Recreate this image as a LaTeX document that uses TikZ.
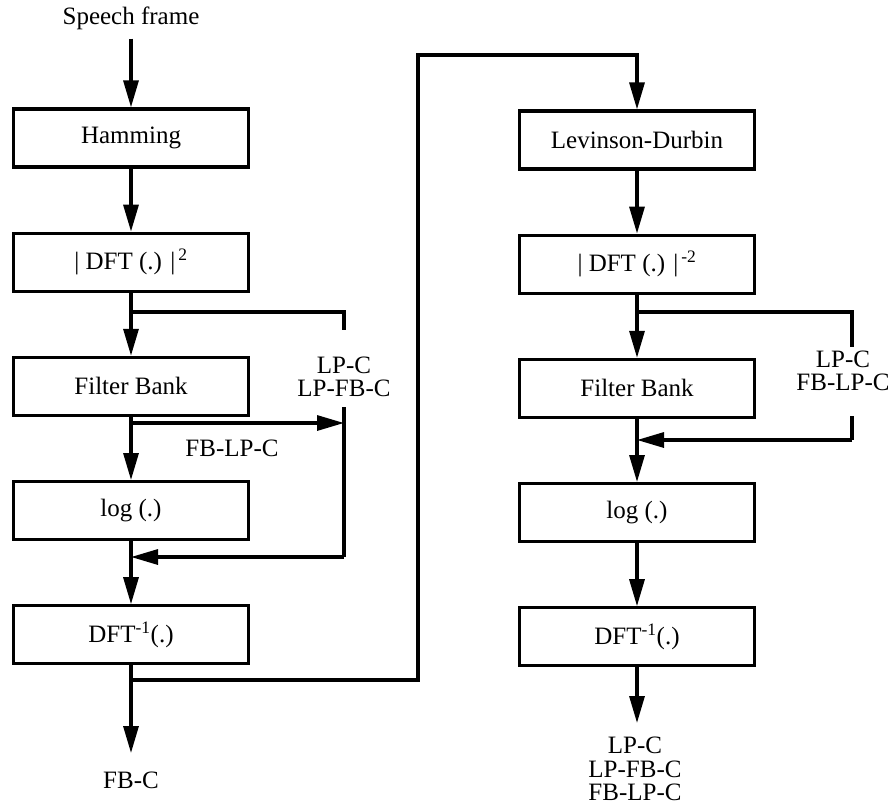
\documentclass[tikz,border=0pt]{standalone}
\usepackage{fontspec}
\setmainfont{Liberation Serif}
\usetikzlibrary{arrows.meta,positioning}
\tikzset{
  blk/.style={draw, rectangle, line width=3.2pt, minimum width=235pt, minimum height=58pt, inner sep=2pt, font=\fontsize{25}{23.5}\selectfont},
  lbl/.style={font=\fontsize{25}{23.5}\selectfont, align=center, inner sep=1pt},
  arr/.style={-{Triangle[length=27pt,width=15pt]}, line width=3.2pt},
  wire/.style={line width=3.2pt},
}

\begin{document}
\begin{tikzpicture}[x=1pt,y=-1pt, node distance=63pt]
\useasboundingbox (0,0) rectangle (888,805);
% left column
\node[lbl] (sf) at (131,18) {Speech frame};
\node[blk] (ham) at (131,138) {Hamming};
\node[blk, below=of ham] (dft) {| DFT (.) |\textsuperscript{\,2}};
\node[blk, below=of dft] (fb) {Filter Bank};
\node[blk, below=of fb] (log) {log (.)};
\node[blk, below=of log] (idft) {DFT\textsuperscript{-1}(.)};
\node[lbl] (lpa) at (344,377) {LP-C\\LP-FB-C};
\node[lbl] (fblp) at (232,448) {FB-LP-C};
\node[lbl] (fbc) at (131,780) {FB-C};
% right column
\node[blk] (lev) at (637,140) {Levinson-Durbin};
\node[blk, below=of lev] (dftr) {| DFT (.) |\textsuperscript{\,-2}};
\node[blk, below=of dftr] (fbr) {Filter Bank};
\node[blk, below=of fbr] (logr) {log (.)};
\node[blk, below=of logr] (idftr) {DFT\textsuperscript{-1}(.)};
\node[lbl] (rpa) at (843,371) {LP-C\\FB-LP-C};
\node[lbl] (outr) at (635,769) {LP-C\\LP-FB-C\\FB-LP-C};
% junctions
\coordinate (ls) at (131,312);
\coordinate (ltop) at (344,330);
\coordinate (lbot) at (344,407);
\coordinate (lfb) at (131,423);
\coordinate (lmrg) at (131,557);
\coordinate (lcnr) at (344,557);
\coordinate (lsplit) at (131,680);
\coordinate (cnr) at (418,55);
\coordinate (lout) at (131,753);
\coordinate (rs) at (637,312);
\coordinate (rtop) at (852,347);
\coordinate (rbot) at (852,416);
\coordinate (rmrg) at (637,440);
\coordinate (rout) at (637,723);

\draw[arr, shorten <=8pt] (sf) -- (ham);
\draw[arr] (ham) -- (dft);
\draw[arr] (dft) -- (fb);
\draw[arr] (fb) -- (log);
\draw[arr] (log) -- (idft);
\draw[arr] (idft) -- (lout);
\draw[wire] (ls) -| (ltop);
\draw[arr] (lfb) -- (lfb -| lbot);
\draw[wire] (lbot) -- (lcnr);
\draw[arr] (lcnr) -- (lmrg);
\draw[arr] (lsplit) -| (cnr) -| (lev);

\draw[arr] (lev) -- (dftr);
\draw[arr] (dftr) -- (fbr);
\draw[arr] (fbr) -- (logr);
\draw[arr] (logr) -- (idftr);
\draw[arr] (idftr) -- (rout);
\draw[wire] (rs) -| (rtop);
\draw[wire] (rbot) |- (rmrg -| rbot);
\draw[arr] (rmrg -| rbot) -- (rmrg);
\end{tikzpicture}
\end{document}
